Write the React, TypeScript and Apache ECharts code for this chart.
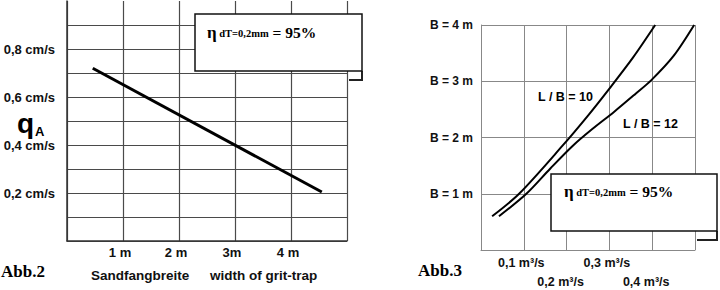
import React, { useEffect, useRef } from 'react';
import * as echarts from 'echarts';

// ---- Abb.2 : q_A vs Sandfangbreite ----
const gritWidthM = [0.46, 4.55];
const qaCmS = [0.72, 0.204];
const widthTickLabels = ['', '1 m', '2 m', '3m', '4 m', ''];
const qaTickValues = [0.2, 0.4, 0.6, 0.8];
const qaTickLabels = ['0,2 cm/s', '0,4 cm/s', '0,6 cm/s', '0,8 cm/s'];

// ---- Abb.3 : B vs Q ----
const lb10Q = [0.026, 0.089, 0.19, 0.25, 0.3, 0.355, 0.407];
const lb10B = [0.6, 1.0, 1.85, 2.39, 2.87, 3.42, 4.0];
const lb12Q = [0.042, 0.106, 0.162, 0.214, 0.26, 0.31, 0.36, 0.398, 0.45, 0.498];
const lb12B = [0.6, 1.0, 1.45, 1.85, 2.15, 2.45, 2.77, 3.02, 3.45, 4.0];
const flowTickLabels = ['', '0,1 m³/s', '0,2 m³/s', '0,3 m³/s', '0,4 m³/s', ''];
const bTickLabels = ['', 'B = 1 m', 'B = 2 m', 'B = 3 m', 'B = 4 m'];

const SANS = '"Liberation Sans", Arial, sans-serif';
const SERIF = '"Liberation Serif", "Times New Roman", serif';

const etaText = (x: number, y: number) => ({
  type: 'text',
  x,
  y,
  style: {
    text: '{e|η}{s| dT=0,2mm}{b| = 95%}',
    verticalAlign: 'middle',
    rich: {
      e: { fontFamily: SERIF, fontWeight: 'bold', fontSize: 17, fill: '#000' },
      s: { fontFamily: SERIF, fontWeight: 'bold', fontSize: 10.5, fill: '#000', padding: [3, 0, 0, 0] },
      b: { fontFamily: SERIF, fontWeight: 'bold', fontSize: 15.5, fill: '#000' },
    },
  },
  z: 20,
});

export default function App() {
  const ref = useRef<HTMLDivElement>(null);
  useEffect(() => {
    if (!ref.current) return;
    const chart = echarts.init(ref.current, null, { renderer: 'svg' });
    const leftSplitColors = Array.from({ length: 11 }, (_, i) => (i === 10 ? 'rgba(0,0,0,0)' : '#4a4a4a'));
    const option: any = {
      animation: false,
      backgroundColor: '#fff',
      grid: [
        { left: 67, top: 1, width: 280, height: 240 },
        { left: 481, top: 25, width: 214, height: 225 },
      ],
      xAxis: [
        {
          type: 'value', gridIndex: 0, min: 0, max: 5, interval: 1,
          axisLine: { show: true, lineStyle: { color: '#333', width: 1.5 } },
          axisTick: { show: false },
          splitLine: { show: true, lineStyle: { color: '#4a4a4a', width: 1.2 } },
          axisLabel: {
            margin: 5,
            formatter: (v: number) => widthTickLabels[Math.round(v)] || '',
            fontFamily: SANS, fontWeight: 'bold', fontSize: 13, color: '#111',
            padding: [0, 6, 0, 0],
          },
        },
        {
          type: 'value', gridIndex: 1, min: 0, max: 0.5, interval: 0.1,
          axisLine: { show: true, lineStyle: { color: '#888', width: 1 } },
          axisTick: { show: false },
          splitLine: { show: true, lineStyle: { color: '#888', width: 1 } },
          axisLabel: {
            margin: 6,
            formatter: (v: number) => {
              const i = Math.round(v * 10);
              const t = flowTickLabels[i] || '';
              if (!t) return '';
              return i % 2 ? `{a|${t}}` : `{b|${t}}`;
            },
            rich: {
              a: { fontFamily: SANS, fontWeight: 'bold', fontSize: 12.5, color: '#111', padding: [0, 5, 0, 0] },
              b: { fontFamily: SANS, fontWeight: 'bold', fontSize: 12.5, color: '#111', padding: [19, 12, 0, 0] },
            },
          },
        },
      ],
      yAxis: [
        {
          type: 'value', gridIndex: 0, min: 0, max: 1, interval: 0.1,
          axisLine: { show: true, lineStyle: { color: '#333', width: 1.5 } },
          axisTick: { show: false },
          splitLine: { show: true, lineStyle: { color: leftSplitColors, width: 1.2 } },
          axisLabel: {
            margin: 12,
            formatter: (v: number) => {
              const k = qaTickValues.findIndex((t) => Math.abs(t - v) < 1e-6);
              return k >= 0 ? qaTickLabels[k] : '';
            },
            fontFamily: SANS, fontWeight: 'bold', fontSize: 13, color: '#111',
          },
        },
        {
          type: 'value', gridIndex: 1, min: 0, max: 4, interval: 1,
          axisLine: { show: true, lineStyle: { color: '#888', width: 1 } },
          axisTick: { show: false },
          splitLine: { show: true, lineStyle: { color: '#888', width: 1 } },
          axisLabel: {
            margin: 8,
            formatter: (v: number) => bTickLabels[Math.round(v)] || '',
            fontFamily: SANS, fontWeight: 'bold', fontSize: 12, color: '#111',
          },
        },
      ],
      series: [
        {
          type: 'line', xAxisIndex: 0, yAxisIndex: 0, symbol: 'none',
          data: gritWidthM.map((x, i) => [x, qaCmS[i]]),
          lineStyle: { color: '#000', width: 3 },
        },
        {
          name: 'L / B = 10', type: 'line', xAxisIndex: 1, yAxisIndex: 1, symbol: 'none', smooth: 0.3,
          data: lb10Q.map((x, i) => [x, lb10B[i]]),
          lineStyle: { color: '#000', width: 2 },
        },
        {
          name: 'L / B = 12', type: 'line', xAxisIndex: 1, yAxisIndex: 1, symbol: 'none', smooth: 0.3,
          data: lb12Q.map((x, i) => [x, lb12B[i]]),
          lineStyle: { color: '#000', width: 2 },
        },
      ],
      graphic: [
        // left box
        { type: 'polyline', shape: { points: [[349, 80], [362, 80], [362, 71]] }, style: { stroke: '#222', lineWidth: 2, fill: null }, z: 19 },
        { type: 'rect', shape: { x: 195, y: 14, width: 167, height: 57 }, style: { fill: '#fff', stroke: '#111', lineWidth: 1.5 }, z: 19 },
        etaText(207, 32),
        // right box
        { type: 'polyline', shape: { points: [[697, 240], [717, 240], [717, 231]] }, style: { stroke: '#222', lineWidth: 2, fill: null }, z: 19 },
        { type: 'rect', shape: { x: 551, y: 174, width: 166, height: 57 }, style: { fill: '#fff', stroke: '#111', lineWidth: 1.5 }, z: 19 },
        etaText(564, 191),
        // q_A
        { type: 'text', x: 17, y: 123, style: { text: 'q', fontFamily: SANS, fontWeight: 'bold', fontSize: 28, fill: '#000', verticalAlign: 'middle' } },
        { type: 'text', x: 35, y: 131, style: { text: 'A', fontFamily: SANS, fontWeight: 'bold', fontSize: 13, fill: '#000', verticalAlign: 'middle' } },
        // left x titles
        { type: 'text', x: 91, y: 275, style: { text: 'Sandfangbreite', fontFamily: SANS, fontWeight: 'bold', fontSize: 13.5, fill: '#111', verticalAlign: 'middle' } },
        { type: 'text', x: 210, y: 275, style: { text: 'width of grit-trap', fontFamily: SANS, fontWeight: 'bold', fontSize: 13.5, fill: '#111', verticalAlign: 'middle' } },
        // Abb labels
        { type: 'text', x: 1, y: 271, style: { text: 'Abb.2', fontFamily: SERIF, fontWeight: 'bold', fontSize: 17, fill: '#000', verticalAlign: 'middle' } },
        { type: 'text', x: 418, y: 270, style: { text: 'Abb.3', fontFamily: SERIF, fontWeight: 'bold', fontSize: 17, fill: '#000', verticalAlign: 'middle' } },
        // curve labels
        { type: 'text', x: 538, y: 97, style: { text: 'L / B = 10', fontFamily: SANS, fontWeight: 'bold', fontSize: 12.5, fill: '#000', verticalAlign: 'middle' } },
        { type: 'text', x: 623, y: 124, style: { text: 'L / B = 12', fontFamily: SANS, fontWeight: 'bold', fontSize: 12.5, fill: '#000', verticalAlign: 'middle' } },
      ],
    };
    chart.setOption(option);
    return () => chart.dispose();
  }, []);
  return <div ref={ref} style={{ position: 'fixed', left: 0, top: 0, width: 720, height: 290 }} />;
}
